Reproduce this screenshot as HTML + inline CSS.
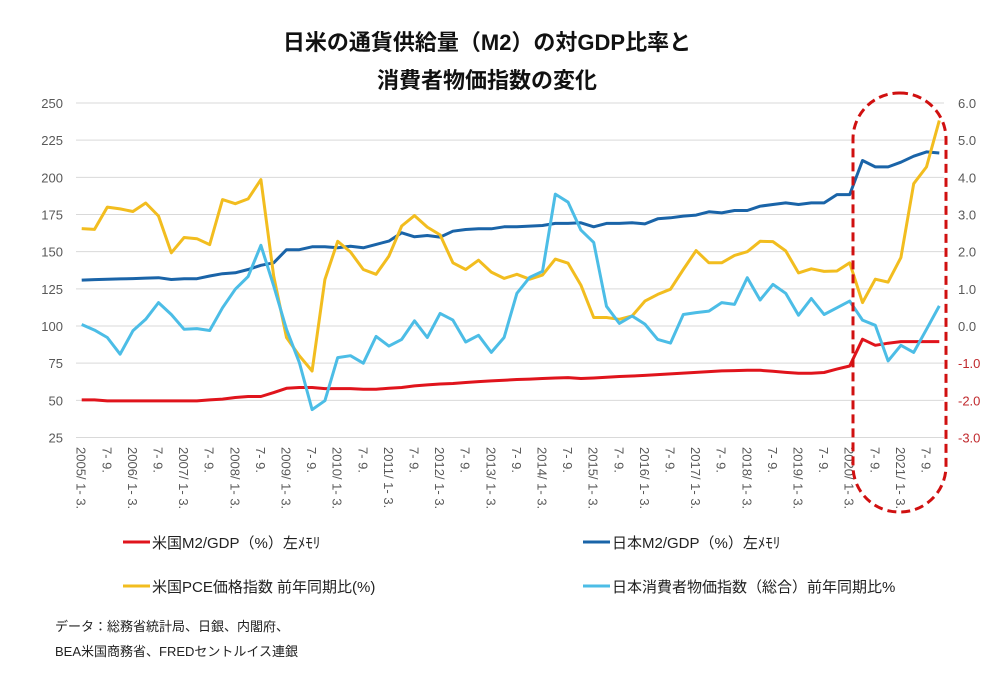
<!DOCTYPE html>
<html><head><meta charset="utf-8">
<style>
body{margin:0;background:#fff;width:1006px;height:678px;overflow:hidden}
svg text{font-family:"Liberation Sans","Noto Sans CJK JP",sans-serif}
</style></head><body>
<svg id="chart" width="1006" height="678" viewBox="0 0 1006 678" xmlns="http://www.w3.org/2000/svg">
<text x="487" y="50" text-anchor="middle" font-size="22" font-weight="bold" fill="#111">日米の通貨供給量（M2）の対GDP比率と</text>
<text x="487" y="88" text-anchor="middle" font-size="22" font-weight="bold" fill="#111">消費者物価指数の変化</text>
<g id="grid"></g>
<g id="yl"></g>
<g id="yr"></g>
<g id="xl"></g>
<g id="series"></g>
<rect x="853" y="93" width="93" height="419" rx="46" ry="46" fill="none" stroke="#d01010" stroke-width="3" stroke-dasharray="9,5"/>
<g>
<g><line x1="123" y1="542" x2="150" y2="542" stroke="#e0141c" stroke-width="3"/><text x="152" y="548" font-size="15" fill="#222">米国M2/GDP（%）左ﾒﾓﾘ</text></g>
<g><line x1="583" y1="542" x2="610" y2="542" stroke="#1a64a8" stroke-width="3"/><text x="612" y="548" font-size="15" fill="#222">日本M2/GDP（%）左ﾒﾓﾘ</text></g>
<g><line x1="123" y1="586" x2="150" y2="586" stroke="#f2bd1f" stroke-width="3"/><text x="152" y="592" font-size="15" fill="#222">米国PCE価格指数 前年同期比(%)</text></g>
<g><line x1="583" y1="586" x2="610" y2="586" stroke="#4cbde6" stroke-width="3"/><text x="612" y="592" font-size="15" fill="#222">日本消費者物価指数（総合）前年同期比%</text></g>
</g>
<text x="55" y="631" font-size="13" fill="#222">データ：総務省統計局、日銀、内閣府、</text>
<text x="55" y="656" font-size="13" fill="#222">BEA米国商務省、FREDセントルイス連銀</text>
</svg>
<script>
const usM2=[50.3,50.3,49.6,49.6,49.6,49.6,49.6,49.6,49.6,49.6,50.3,50.8,51.9,52.6,52.6,55.2,58.1,58.6,58.6,57.9,57.9,57.9,57.5,57.5,58.1,58.6,59.7,60.4,61,61.3,62,62.6,63.1,63.5,64.0,64.3,64.7,65.0,65.3,64.7,65.0,65.5,66.0,66.4,66.8,67.3,67.8,68.3,68.8,69.3,69.8,70.0,70.2,70.2,69.5,68.8,68.2,68.2,68.7,71.0,73.1,91.1,87.0,88.4,89.5,89.5,89.5,89.5];
const jpM2=[130.9,131.2,131.5,131.7,131.9,132.2,132.5,131.3,131.8,131.8,133.6,135.2,135.8,138,140.8,142.5,151.3,151.3,153.3,153.3,152.6,153.7,152.6,154.9,157.1,162.7,160,160.9,159.8,163.8,164.9,165.4,165.4,166.7,166.7,167.2,167.6,169,169,169.4,166.7,169,169,169.4,168.7,172.1,172.8,173.9,174.6,176.8,176.1,177.7,177.7,180.6,181.7,182.8,181.7,182.8,182.8,188.4,188.4,211.3,207,207,210.2,214.2,217.1,216.4];
const usPCE=[2.62,2.60,3.20,3.15,3.08,3.31,2.96,1.97,2.38,2.35,2.19,3.40,3.29,3.42,3.94,1.34,-0.31,-0.80,-1.21,1.25,2.28,1.99,1.52,1.39,1.88,2.69,2.97,2.66,2.45,1.70,1.52,1.77,1.45,1.28,1.39,1.26,1.37,1.80,1.69,1.10,0.23,0.23,0.18,0.27,0.67,0.85,0.99,1.52,2.03,1.70,1.70,1.90,2.0,2.28,2.27,2.02,1.43,1.54,1.47,1.48,1.70,0.63,1.26,1.18,1.84,3.83,4.28,5.53];
const jpCPI=[0.04,-0.11,-0.31,-0.76,-0.13,0.18,0.63,0.31,-0.09,-0.07,-0.12,0.49,0.99,1.33,2.17,1.08,-0.09,-0.98,-2.25,-2.01,-0.85,-0.80,-1.0,-0.28,-0.54,-0.36,0.14,-0.31,0.34,0.16,-0.43,-0.25,-0.71,-0.31,0.88,1.31,1.47,3.55,3.33,2.58,2.25,0.53,0.07,0.27,0.05,-0.36,-0.46,0.31,0.36,0.40,0.63,0.58,1.30,0.70,1.12,0.88,0.29,0.74,0.31,0.49,0.67,0.16,0.02,-0.94,-0.52,-0.71,-0.09,0.54];
const leftTicks=[25,50,75,100,125,150,175,200,225,250];
const rightTicks=[-3,-2,-1,0,1,2,3,4,5,6];
const years=[2005,2006,2007,2008,2009,2010,2011,2012,2013,2014,2015,2016,2017,2018,2019,2020,2021];

const NS="http://www.w3.org/2000/svg";
const X0=81.7, DX=12.8, TOP=103, BOT=437.5;
const xAt=i=>X0+DX*i;
const yL=v=>TOP+(250-v)*(BOT-TOP)/225;
const yR=v=>TOP+(6-v)*(BOT-TOP)/9;
function mk(tag,attrs,parent){const e=document.createElementNS(NS,tag);for(const k in attrs)e.setAttribute(k,attrs[k]);parent.appendChild(e);return e;}
const grid=document.getElementById('grid'),yl=document.getElementById('yl'),yr=document.getElementById('yr'),xl=document.getElementById('xl'),ser=document.getElementById('series');
leftTicks.forEach(t=>{
  const l=mk('line',{x1:76,x2:944,y1:yL(t),y2:yL(t),stroke:'#d9d9d9','stroke-width':1},grid);
  
  
  const tx=mk('text',{x:63,y:yL(t)+5,'text-anchor':'end','font-size':13,fill:'#595959'},yl);
  tx.textContent=t;
  
  
});
rightTicks.forEach(t=>{
  const tx=mk('text',{x:958,y:yR(t)+5,'font-size':13,fill:t<0?'#c0282c':'#595959'},yr);
  tx.textContent=t.toFixed(1);
  
  
});
years.forEach((yv,k)=>{
  [[yv+'/ 1- 3.',4*k],['7- 9.',4*k+2]].forEach(([s,i])=>{
    const x=xAt(i);
    const tx=mk('text',{x:0,y:0,'font-size':13,fill:'#595959',transform:`translate(${x-5},447) rotate(90)`},xl);
    tx.textContent=s;
    
    
  });
});
function line(arr,yf,color,name){
  const d=arr.map((v,i)=>(i?'L':'M')+xAt(i).toFixed(1)+','+yf(v).toFixed(1)).join(' ');
  const p=mk('path',{d:d,fill:'none',stroke:color,'stroke-width':3,'stroke-linejoin':'round'},ser);
  
  
}
line(usM2,yL,'#e0141c','us-m2-gdp-line');
line(jpM2,yL,'#1a64a8','jp-m2-gdp-line');
line(usPCE,yR,'#f2bd1f','us-pce-line');
line(jpCPI,yR,'#4cbde6','jp-cpi-line');
</script>
</body></html>
